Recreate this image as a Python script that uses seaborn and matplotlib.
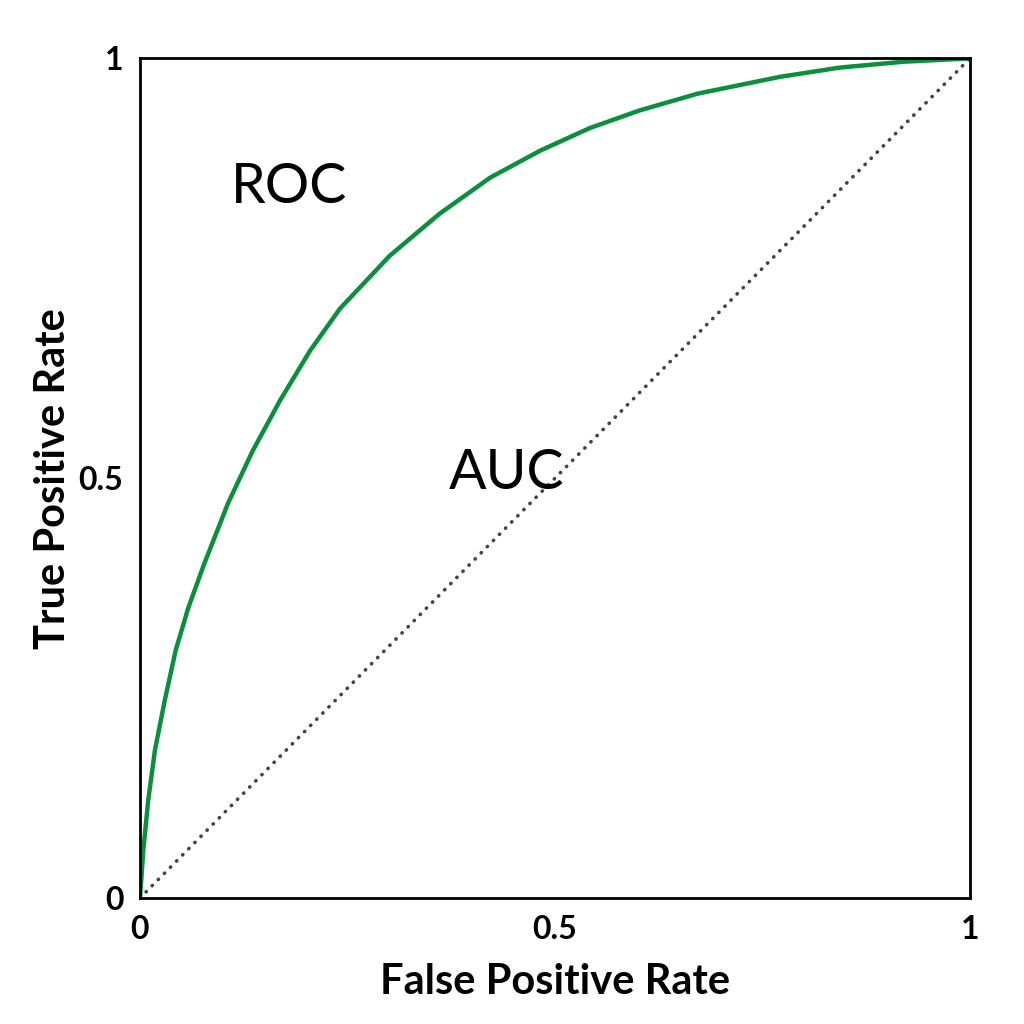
import numpy as np
import pandas as pd
import matplotlib
matplotlib.use("Agg")
import matplotlib.pyplot as plt
import seaborn as sns

# ROC curve points
fpr = [0.0, 0.004, 0.010, 0.018, 0.030, 0.043, 0.058, 0.077, 0.106, 0.136,
       0.169, 0.205, 0.241, 0.301, 0.361, 0.422, 0.482, 0.542, 0.602, 0.672,
       0.771, 0.843, 0.920, 1.0]
tpr = [0.0, 0.057, 0.117, 0.176, 0.236, 0.295, 0.345, 0.397, 0.470, 0.533,
       0.593, 0.652, 0.702, 0.765, 0.815, 0.858, 0.890, 0.917, 0.938, 0.958,
       0.978, 0.989, 0.996, 1.0]

# random classifier diagonal
diag_x = [0.0, 1.0]
diag_y = [0.0, 1.0]

tick_vals = [0, 0.5, 1]
tick_labels = ["0", "0.5", "1"]

sns.set_style("white")
plt.rcParams['font.family'] = ['Lato', 'DejaVu Sans']
plt.rcParams['text.color'] = 'black'

roc = pd.DataFrame({"FPR": fpr, "TPR": tpr})
diag = pd.DataFrame({"x": diag_x, "y": diag_y})

fig = plt.figure(figsize=(10.24, 10.24), dpi=100)
ax = fig.add_axes([0.1367, 0.123, 0.8105, 0.820])

sns.lineplot(data=diag, x="x", y="y", ax=ax, color="#444444", lw=2.6,
             linestyle=(0, (0.1, 2.3)), dash_capstyle="round")
sns.lineplot(data=roc, x="FPR", y="TPR", ax=ax, color="#0b8f3d", lw=3.2,
             solid_joinstyle="round")

ax.set_xlim(0, 1)
ax.set_ylim(0, 1)
ax.set_xticks(tick_vals)
ax.set_xticklabels(tick_labels)
ax.set_yticks(tick_vals)
ax.set_yticklabels(tick_labels)
ax.tick_params(length=0, labelsize=23, pad=12, labelcolor="black")
for lab in ax.get_xticklabels() + ax.get_yticklabels():
    lab.set_fontweight("bold")

ax.set_xlabel("False Positive Rate", fontsize=30, fontweight="bold", labelpad=14, color="black")
ax.set_ylabel("True Positive Rate", fontsize=30, fontweight="bold", labelpad=5, color="black")

for s in ax.spines.values():
    s.set_visible(True)
    s.set_color("black")
    s.set_linewidth(2)

ax.text(0.18, 0.846, "ROC", fontsize=40, ha="center", va="center", color="black")
ax.text(0.442, 0.506, "AUC", fontsize=40, ha="center", va="center", color="black")

fig.savefig("out.png", dpi=100, facecolor="white")
